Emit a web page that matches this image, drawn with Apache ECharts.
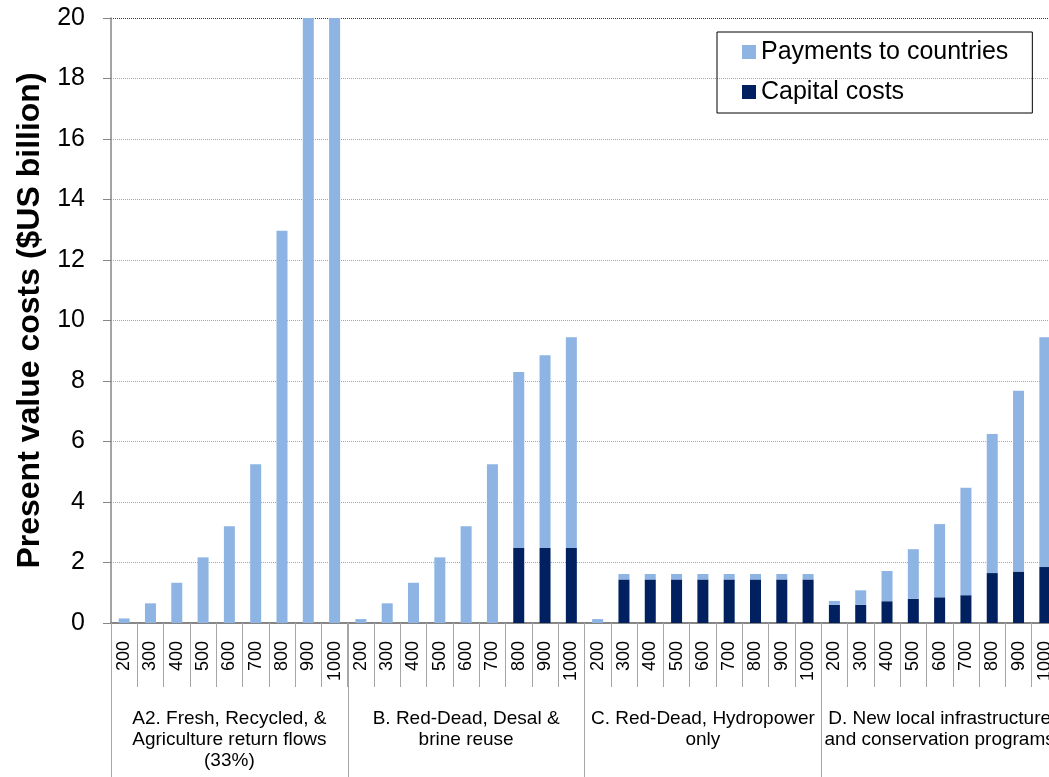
<!DOCTYPE html>
<html>
<head>
<meta charset="utf-8">
<script src="https://cdn.jsdelivr.net/npm/echarts@6/dist/echarts.min.js"></script>
<style>
  html, body { margin: 0; padding: 0; background: #ffffff; overflow: hidden; }
  #chart { width: 1049px; height: 777px; }
</style>
</head>
<body>
<div id="chart"></div>
<script>
// Water volume levels within each option group
const sizes = ['200', '300', '400', '500', '600', '700', '800', '900', '1000'];

// Option groups shown under the volume labels
const groups = [
  'A2. Fresh, Recycled, &\nAgriculture return flows\n(33%)',
  'B. Red-Dead, Desal &\nbrine reuse',
  'C. Red-Dead, Hydropower\nonly',
  'D. New local infrastructure\nand conservation programs'
];

// Capital costs ($US billion)
const capitalA = [0, 0, 0, 0, 0, 0, 0, 0, 0];
const capitalB = [0, 0, 0, 0, 0, 0, 2.48, 2.48, 2.48];
const capitalC = [0, 1.44, 1.44, 1.44, 1.44, 1.44, 1.44, 1.44, 1.44];
const capitalD = [0.6, 0.6, 0.72, 0.8, 0.85, 0.92, 1.65, 1.7, 1.85];

// Payments to countries ($US billion)
const paymentsA = [0.15, 0.65, 1.33, 2.17, 3.2, 5.25, 12.97, 20, 20];
const paymentsB = [0.13, 0.65, 1.33, 2.17, 3.2, 5.25, 5.82, 6.37, 6.97];
const paymentsC = [0.13, 0.18, 0.18, 0.18, 0.18, 0.18, 0.18, 0.18, 0.18];
const paymentsD = [0.13, 0.48, 1.0, 1.64, 2.42, 3.55, 4.6, 5.98, 7.6];

// Y axis range
const yMin = 0, yMax = 20, yStep = 2;

const categories = [];
groups.forEach(() => sizes.forEach(s => categories.push(s)));
const capital = [].concat(capitalA, capitalB, capitalC, capitalD);
const payments = [].concat(paymentsA, paymentsB, paymentsC, paymentsD);

const FONT = '"Liberation Sans", Arial, sans-serif';
const gridColors = [];
for (let v = yMin; v <= yMax; v += yStep) gridColors.push(v === yMax ? '#404040' : '#a6a6a6');

const chart = echarts.init(document.getElementById('chart'), null, { renderer: 'canvas' });
chart.setOption({
  animation: false,
  backgroundColor: '#ffffff',
  textStyle: { fontFamily: FONT },
  // plot area runs slightly past the right edge of the page
  grid: { left: 111, top: 18, width: 947, height: 605, containLabel: false, outerBoundsMode: 'none' },
  legend: {
    orient: 'vertical',
    left: 717,
    top: 32,
    data: ['Payments to countries', 'Capital costs'],
    icon: 'rect',
    itemWidth: 14,
    itemHeight: 14,
    itemGap: 14,
    itemTextGap: 6,
    borderColor: '#000000',
    borderWidth: 1,
    borderRadius: 0,
    padding: [7, 24, 8, 25],
    textStyle: { fontFamily: FONT, fontSize: 25, color: '#000000', lineHeight: 26 }
  },
  xAxis: [
    {
      type: 'category',
      data: categories,
      axisLine: { show: true, lineStyle: { color: '#868686', width: 2 } },
      axisTick: { show: true, interval: 0, length: 64, lineStyle: { color: '#a6a6a6' } },
      axisLabel: { interval: 0, rotate: 90, margin: 18, fontSize: 18, color: '#000000', fontFamily: FONT }
    },
    {
      type: 'category',
      data: groups,
      position: 'bottom',
      axisLine: { show: false },
      axisTick: { show: true, interval: 0, length: 154, lineStyle: { color: '#a6a6a6' } },
      axisLabel: {
        interval: 0, margin: 85, fontSize: 19, lineHeight: 21,
        verticalAlign: 'top', color: '#000000', fontFamily: FONT
      }
    }
  ],
  yAxis: {
    type: 'value',
    min: yMin,
    max: yMax,
    interval: yStep,
    name: 'Present value costs ($US billion)',
    nameLocation: 'middle',
    nameRotate: 90,
    nameGap: 62,
    nameTextStyle: { fontFamily: FONT, fontSize: 32, fontWeight: 'bold', color: '#000000' },
    axisLine: { show: true, lineStyle: { color: '#868686', width: 1.5 } },
    axisTick: { show: true, length: 8, lineStyle: { color: '#868686' } },
    axisLabel: { margin: 26, fontSize: 25, color: '#000000', fontFamily: FONT },
    splitLine: { show: true, lineStyle: { color: gridColors, type: 'dotted', width: 1 } }
  },
  series: [
    {
      name: 'Capital costs',
      type: 'bar',
      stack: 'cost',
      barWidth: 11,
      data: capital,
      itemStyle: { color: '#002060' }
    },
    {
      name: 'Payments to countries',
      type: 'bar',
      stack: 'cost',
      barWidth: 11,
      data: payments,
      itemStyle: { color: '#8eb4e3' }
    }
  ]
});
</script>
</body>
</html>
